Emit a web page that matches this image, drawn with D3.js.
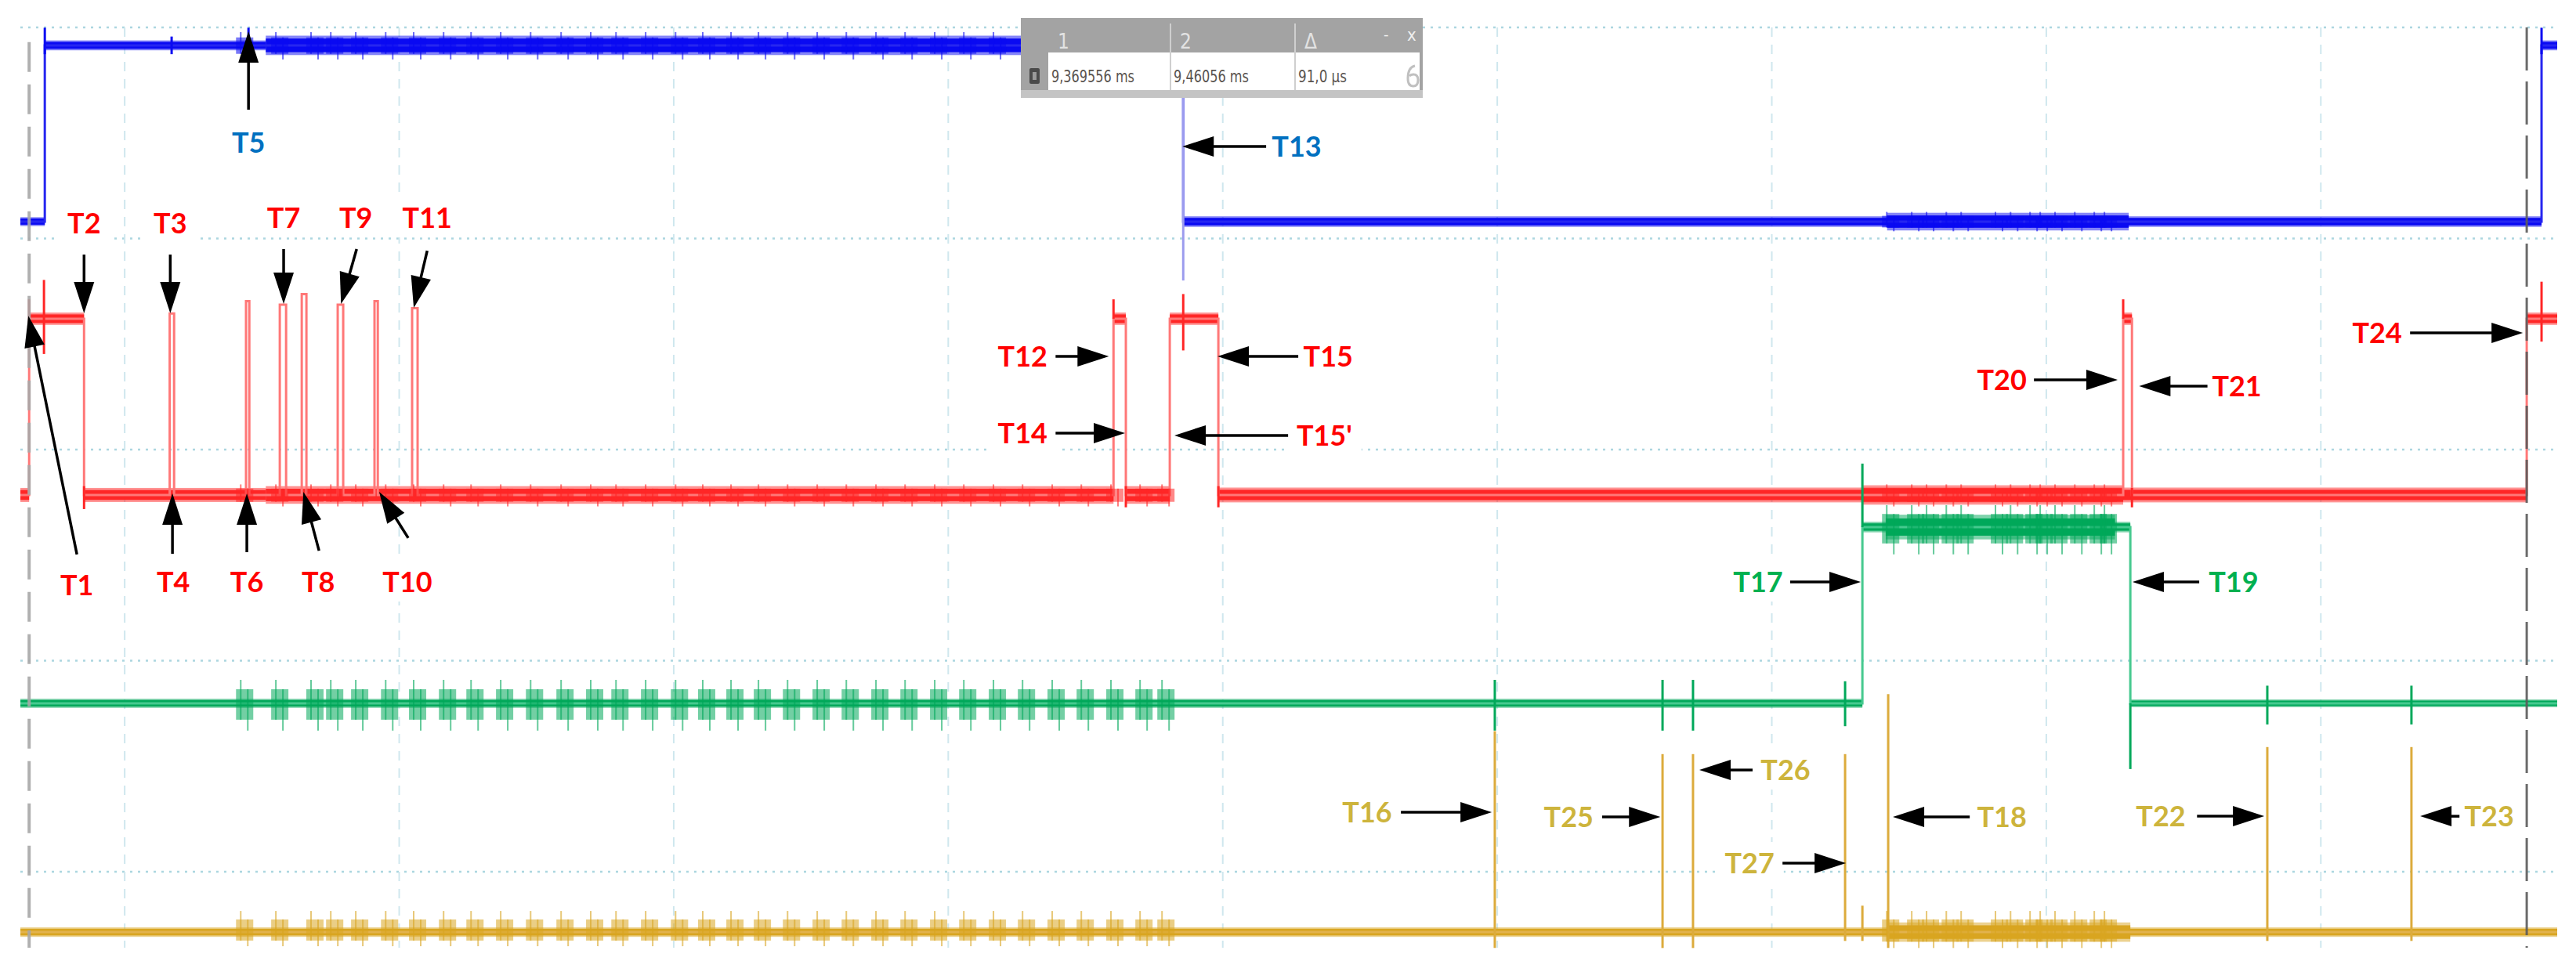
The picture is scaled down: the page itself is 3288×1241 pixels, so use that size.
<!DOCTYPE html>
<html><head><meta charset="utf-8">
<script src="https://cdn.jsdelivr.net/npm/d3@7/dist/d3.min.js"></script>
<style>body{margin:0;background:#fff}svg{display:block}</style>
</head><body>
<svg id="c" width="3288" height="1241"></svg>
<script>
// ---------- DATA (time in screen divisions, vertical in divisions) ----------
const xGridDivs = [1, 2, 3, 4, 5, 6, 7, 8, 9];
const yGridDivs = [0, 1, 2, 3, 4];
const timeStart = 0.62, timeEnd = 9.861;

const channelNames = ["CH1", "CH2", "CH3", "CH4"];
const channelColors = ["#0a0af2", "#ff2626", "#00a85a", "#d9a521"];
const edgeColors = ["#2626f0", "#ff7878", "#46c98f", "#e2b24e"];
const channelOffsetDiv = [0.920, 2.215, 3.202, 4.286]; // logic-low level of each channel
const levelDiv = 0.835;                                 // one logic level in divisions

// step edges: [time, level]
const blueEdges = [[0.620,0],[0.709,1],[4.856,0],[9.804,1],[9.861,1]];
const redEdges = [[0.620,0],[0.652,1],[0.852,0],[1.164,1.03],[1.180,0],[1.442,1.10],[1.454,0],
  [1.565,1.08],[1.588,0],[1.645,1.14],[1.662,0],[1.776,1.08],[1.796,0],[1.910,1.10],[1.922,0],
  [2.047,1.06],[2.067,0],[4.602,1.0],[4.647,0],[4.807,1.0],[4.984,0],[8.280,1.0],[8.312,0],[9.750,1.0],[9.861,1.0]];
const greenEdges = [[0.620,0],[7.330,1],[8.306,0],[9.861,0]];
const yellowEdges = [[0.620,0],[9.861,0]];

// noise envelopes: [t0, t1, level, half amplitude]
const blueBands = [[0.620,0.709,0,0.025],[0.709,1.514,1,0.028],[1.514,4.265,1,0.055],[4.856,9.804,0,0.03],[7.42,8.30,0,0.05],[9.804,9.861,1,0.028]];
const redBands = [[0.620,0.652,0,0.04],[0.652,0.852,1,0.035],[0.852,1.514,0,0.04],[1.514,4.602,0,0.05],[4.647,4.807,0,0.05],
  [4.984,9.750,0,0.042],[7.33,8.28,0,0.055],[4.602,4.647,1.0,0.035],[4.807,4.984,1,0.035],[8.280,8.312,1.0,0.035],[9.750,9.861,1,0.035]];
const greenBands = [[0.620,7.330,0,0.026],[7.330,8.306,1,0.03],[7.415,8.25,1,0.07],[8.306,9.861,0,0.022]];
const yellowBands = [[0.620,9.861,0,0.027],[7.424,8.306,0,0.055]];

// glitches: [time, top level, bottom level]
const blueSpikes = [[0.709,1.10,0.95],[1.171,1.05,0.95],[1.451,1.10,0.92],[9.804,1.10,0.95]];
const redSpikes = [[0.652,1.11,0.9],[0.706,1.22,0.8],[0.852,0.05,-0.08],[4.602,1.11,1],[4.647,0.05,-0.07],
  [4.856,1.14,0.82],[4.984,0.05,-0.07],[8.280,1.11,1],[8.312,0.04,-0.07],[9.804,1.21,0.87]];
const greenSpikes = [[5.991,0.133,-0.155],[6.602,0.133,-0.155],[6.713,0.133,-0.155],[7.267,0.125,-0.13],
  [7.330,1.36,1],[8.306,0,-0.373],[8.805,0.1,-0.12],[9.330,0.1,-0.12]];
const yellowSpikes = [[5.991,1.14,-0.09],[6.602,1.01,-0.09],[6.713,1.01,-0.09],[7.267,1.01,-0.05],
  [7.330,0.15,-0.05],[7.424,1.35,-0.09],[8.805,1.05,-0.05],[9.330,1.05,-0.05]];

// activity bursts (times)
const burstTimes = [1.437,1.565,1.693,1.765,1.856,1.965,2.067,2.176,2.276,2.384,2.493,2.604,2.712,2.804,
  2.912,3.021,3.120,3.223,3.323,3.429,3.537,3.643,3.751,3.857,3.965,4.071,4.179,4.285,4.393,4.499,4.607,4.713,4.793];
const busyTimes = [7.433,7.524,7.578,7.650,7.704,7.829,7.884,7.955,7.992,8.046,8.118,8.189,8.226];
// burst groups: [channel index, times, level, up, down, last time]
const burstGroups = [
  [0, burstTimes, 1, 0.075, 0.08, 4.26], [0, busyTimes, 0, 0.055, 0.055, 9],
  [1, burstTimes, 0, 0.06, 0.065, 9], [1, busyTimes, 0, 0.06, 0.065, 9],
  [2, burstTimes, 0, 0.133, 0.155, 9], [2, busyTimes, 1, 0.124, 0.155, 9],
  [3, burstTimes, 0, 0.12, 0.08, 9], [3, busyTimes, 0, 0.12, 0.09, 9]
];

const cursorLines = [0.652, 9.750];        // dashed reference lines
const cursorTime = 4.856;                  // cursor 2 (T13)
const cursorHeaders = ["1", "2", "\u0394"];
const cursorValues = ["9,369556 ms", "9,46056 ms", "91,0 \u00b5s"];

const RED = "#ff0000", BLUE = "#0070c0", GREEN = "#00b050", GOLD = "#cdb43c";
// annotations: label position and arrow (tail -> tip), in divisions
const annotations = [
  {id:"T5", col:BLUE, lx:1.451, ly:0.545, from:[1.451,0.390], to:[1.451,0.019]},
  {id:"T13", col:BLUE, lx:5.269, ly:0.564, from:[5.158,0.564], to:[4.853,0.564]},
  {id:"T1", col:RED, lx:0.826, ly:2.642, from:[0.826,2.497], to:[0.649,1.366]},
  {id:"T2", col:RED, lx:0.852, ly:0.928, from:[0.852,1.076], to:[0.852,1.354]},
  {id:"T3", col:RED, lx:1.166, ly:0.928, from:[1.166,1.076], to:[1.166,1.354]},
  {id:"T4", col:RED, lx:1.177, ly:2.627, from:[1.174,2.494], to:[1.174,2.208]},
  {id:"T6", col:RED, lx:1.445, ly:2.627, from:[1.445,2.486], to:[1.445,2.208]},
  {id:"T7", col:RED, lx:1.579, ly:0.902, from:[1.579,1.050], to:[1.579,1.310]},
  {id:"T8", col:RED, lx:1.705, ly:2.627, from:[1.708,2.479], to:[1.651,2.200]},
  {id:"T9", col:RED, lx:1.842, ly:0.902, from:[1.845,1.050], to:[1.788,1.310]},
  {id:"T10", col:RED, lx:2.030, ly:2.627, from:[2.033,2.419], to:[1.927,2.200]},
  {id:"T11", col:RED, lx:2.102, ly:0.902, from:[2.102,1.058], to:[2.053,1.328]},
  {id:"T12", col:RED, lx:4.271, ly:1.558, from:[4.391,1.558], to:[4.585,1.558]},
  {id:"T14", col:RED, lx:4.271, ly:1.922, from:[4.391,1.922], to:[4.644,1.922]},
  {id:"T15", col:RED, lx:5.384, ly:1.558, from:[5.275,1.558], to:[4.981,1.558]},
  {id:"T15'", col:RED, lx:5.370, ly:1.933, from:[5.238,1.933], to:[4.824,1.933]},
  {id:"T20", col:RED, lx:7.838, ly:1.670, from:[7.955,1.670], to:[8.260,1.670]},
  {id:"T21", col:RED, lx:8.694, ly:1.699, from:[8.587,1.699], to:[8.338,1.699]},
  {id:"T24", col:RED, lx:9.205, ly:1.447, from:[9.325,1.447], to:[9.736,1.447]},
  {id:"T17", col:GREEN, lx:6.950, ly:2.627, from:[7.067,2.627], to:[7.324,2.627]},
  {id:"T19", col:GREEN, lx:8.682, ly:2.627, from:[8.557,2.627], to:[8.314,2.627]},
  {id:"T16", col:GOLD, lx:5.526, ly:3.718, from:[5.649,3.718], to:[5.980,3.718]},
  {id:"T25", col:GOLD, lx:6.260, ly:3.740, from:[6.382,3.740], to:[6.594,3.740]},
  {id:"T26", col:GOLD, lx:7.050, ly:3.518, from:[6.930,3.518], to:[6.736,3.518]},
  {id:"T27", col:GOLD, lx:6.919, ly:3.959, from:[7.039,3.959], to:[7.270,3.959]},
  {id:"T18", col:GOLD, lx:7.838, ly:3.740, from:[7.721,3.740], to:[7.441,3.740]},
  {id:"T22", col:GOLD, lx:8.417, ly:3.737, from:[8.549,3.737], to:[8.794,3.737]},
  {id:"T23", col:GOLD, lx:9.613, ly:3.737, from:[9.505,3.737], to:[9.362,3.737]}
];

// ---------- SCALES ----------
const svg = d3.select("#c");
const x = d3.scaleLinear().domain([timeStart, timeEnd]).range([26, 3264]);
const y = d3.scaleLinear().domain([0, 4]).range([35, 1113]);
const yCh = ch => lvl => y(channelOffsetDiv[ch] - lvl * levelDiv);

// ---------- GRID ----------
const grid = svg.append("g");
grid.selectAll("line.h").data(yGridDivs).join("line")
  .attr("x1", x(timeStart)).attr("x2", x(timeEnd)).attr("y1", d => y(d)).attr("y2", d => y(d))
  .attr("stroke", "#acd6e0").attr("stroke-width", 2.5).attr("stroke-dasharray", "3 7");
grid.selectAll("line.v").data(xGridDivs).join("line")
  .attr("x1", d => x(d)).attr("x2", d => x(d)).attr("y1", y(0)).attr("y2", y(4.36))
  .attr("stroke", "#cfe7ee").attr("stroke-width", 2).attr("stroke-dasharray", "12 10");

// ---------- TRACES ----------
const traces = [
  {edges: blueEdges, bands: blueBands, spikes: blueSpikes},
  {edges: redEdges, bands: redBands, spikes: redSpikes},
  {edges: greenEdges, bands: greenBands, spikes: greenSpikes},
  {edges: yellowEdges, bands: yellowBands, spikes: yellowSpikes}
];
const tg = svg.append("g");
traces.forEach((tr, ch) => {
  const Y = yCh(ch), col = channelColors[ch];
  const g = tg.append("g");
  g.selectAll("rect.o").data(tr.bands).join("rect")
    .attr("x", d => x(d[0])).attr("width", d => x(d[1]) - x(d[0]))
    .attr("y", d => Y(d[2] + d[3])).attr("height", d => Y(d[2] - d[3]) - Y(d[2] + d[3]))
    .attr("fill", col).attr("opacity", 0.5);
  g.selectAll("rect.i").data(tr.bands).join("rect")
    .attr("x", d => x(d[0])).attr("width", d => x(d[1]) - x(d[0]))
    .attr("y", d => Y(d[2] + d[3] * 0.7)).attr("height", d => Y(d[2] - d[3] * 0.7) - Y(d[2] + d[3] * 0.7))
    .attr("fill", col);
  g.append("path").datum(tr.edges)
    .attr("d", d3.line().curve(d3.curveStepAfter).x(d => x(d[0])).y(d => Y(d[1])))
    .attr("fill", "none").attr("stroke", edgeColors[ch]).attr("stroke-width", 3);
  g.selectAll("line.s").data(tr.spikes).join("line")
    .attr("x1", d => x(d[0])).attr("x2", d => x(d[0]))
    .attr("y1", d => Y(d[1])).attr("y2", d => Y(d[2]))
    .attr("stroke", ch === 3 ? "#dcab3c" : col).attr("stroke-width", 3);
});
// bursts
burstGroups.forEach(([ch, times, lvl, up, down, last]) => {
  const Y = yCh(ch), col = channelColors[ch];
  const ts = times.filter(t => t <= last);
  const g = tg.append("g");
  g.selectAll("rect").data(ts).join("rect")
    .attr("x", t => x(t) - 11).attr("width", 22)
    .attr("y", Y(lvl + up * 0.6)).attr("height", Y(lvl - down * 0.6) - Y(lvl + up * 0.6))
    .attr("fill", col).attr("opacity", 0.55);
  g.selectAll("line.a").data(ts).join("line")
    .attr("x1", t => x(t) - 5).attr("x2", t => x(t) - 5)
    .attr("y1", Y(lvl + up)).attr("y2", Y(lvl - down * 0.6))
    .attr("stroke", col).attr("stroke-width", 2).attr("opacity", 0.6);
  g.selectAll("line.b").data(ts).join("line")
    .attr("x1", t => x(t) + 4).attr("x2", t => x(t) + 4)
    .attr("y1", Y(lvl + up * 0.6)).attr("y2", Y(lvl - down))
    .attr("stroke", col).attr("stroke-width", 2).attr("opacity", 0.6);
});

// dashed reference lines
svg.append("g").selectAll("line").data(cursorLines).join("line")
  .attr("x1", d => x(d)).attr("x2", d => x(d)).attr("y1", (d, i) => i ? y(0) : y(0.07)).attr("y2", y(4.36))
  .attr("stroke", (d, i) => i ? "#5c5c5c" : "#a8a8a8").attr("stroke-width", (d, i) => i ? 3 : 4)
  .attr("stroke-dasharray", (d, i) => i ? "55 14" : "38 16").attr("opacity", 0.9);
// cursor 2 line
svg.append("line").attr("x1", x(cursorTime)).attr("x2", x(cursorTime))
  .attr("y1", 125).attr("y2", y(1.199)).attr("stroke", "#9c9cee").attr("stroke-width", 3);

// ---------- ANNOTATIONS ----------
const ag = svg.append("g");
annotations.forEach(a => {
  const t = ag.append("text").attr("x", x(a.lx)).attr("y", y(a.ly)).attr("dy", "0.36em")
    .attr("text-anchor", "middle").attr("fill", a.col)
    .attr("font-family", "Lato, 'Open Sans', sans-serif").attr("font-size", 36)
    .attr("font-weight", "bold").text(a.id);
  const bb = t.node().getBBox();
  ag.insert("rect", () => t.node()).attr("x", bb.x - 12).attr("y", y(a.ly) - 27)
    .attr("width", bb.width + 24).attr("height", 52).attr("fill", "#fff");
});
annotations.forEach(a => {
  const x1 = x(a.from[0]), y1 = y(a.from[1]), x2 = x(a.to[0]), y2 = y(a.to[1]);
  const len = Math.hypot(x2 - x1, y2 - y1), ux = (x2 - x1) / len, uy = (y2 - y1) / len;
  const L = 40, W = 13, bx = x2 - ux * L, by = y2 - uy * L;
  ag.append("line").attr("x1", x1).attr("y1", y1).attr("x2", bx + ux * 4).attr("y2", by + uy * 4)
    .attr("stroke", "#000").attr("stroke-width", 3.5);
  ag.append("path").attr("d", `M${x2},${y2}L${bx - uy * W},${by + ux * W}L${bx + uy * W},${by - ux * W}Z`)
    .attr("fill", "#000");
});

// ---------- CURSOR READOUT BOX ----------
const cb = svg.append("g");
const bx0 = 1303, bx1 = 1816, colX = [1338, 1494, 1653];
cb.append("rect").attr("x", bx0).attr("y", 23).attr("width", bx1 - bx0).attr("height", 102).attr("fill", "#a3a3a3");
cb.append("rect").attr("x", bx0).attr("y", 115).attr("width", bx1 - bx0).attr("height", 10).attr("fill", "#c4c4c4");
cb.append("rect").attr("x", colX[0]).attr("y", 67).attr("width", bx1 - 4 - colX[0]).attr("height", 48).attr("fill", "#fff");
cb.selectAll("line.sep").data(colX.slice(1)).join("line")
  .attr("x1", d => d).attr("x2", d => d).attr("y1", 30).attr("y2", 115)
  .attr("stroke", "#cfcfcf").attr("stroke-width", 2);
cb.selectAll("text.h").data(cursorHeaders).join("text")
  .attr("x", (d, i) => colX[i] + 12).attr("y", 62)
  .attr("font-family", "'Liberation Sans Narrow', 'DejaVu Sans Condensed', sans-serif").attr("font-size", 26)
  .attr("fill", "#e2e2e2").text(d => d);
cb.append("text").attr("x", 1766).attr("y", 50).attr("font-family", "'DejaVu Sans', sans-serif")
  .attr("font-size", 18).attr("fill", "#f0f0f0").text("-");
cb.append("text").attr("x", 1796).attr("y", 52).attr("font-family", "'DejaVu Sans Condensed', sans-serif")
  .attr("font-size", 22).attr("fill", "#f0f0f0").text("x");
cb.selectAll("text.v").data(cursorValues).join("text")
  .attr("x", (d, i) => colX[i] + 4).attr("y", 105)
  .attr("font-family", "'Liberation Sans Narrow', 'DejaVu Sans Condensed', sans-serif").attr("font-size", 22)
  .attr("textLength", (d, i) => [106, 96, 62][i]).attr("lengthAdjust", "spacingAndGlyphs")
  .attr("fill", "#5a5450").text(d => d);
cb.append("rect").attr("x", 1314).attr("y", 87).attr("width", 13).attr("height", 20).attr("rx", 2).attr("fill", "#4a4a4a");
cb.append("rect").attr("x", 1318).attr("y", 92).attr("width", 5).attr("height", 10).attr("fill", "#9a9a9a");
cb.append("path").attr("d", "M1806,84 q-9,2 -9,16 q0,10 7,10 q6,0 6,-8 q0,-7 -6,-7 q-3,0 -5,2")
  .attr("fill", "none").attr("stroke", "#c0c0c0").attr("stroke-width", 3);
</script>
</body></html>
